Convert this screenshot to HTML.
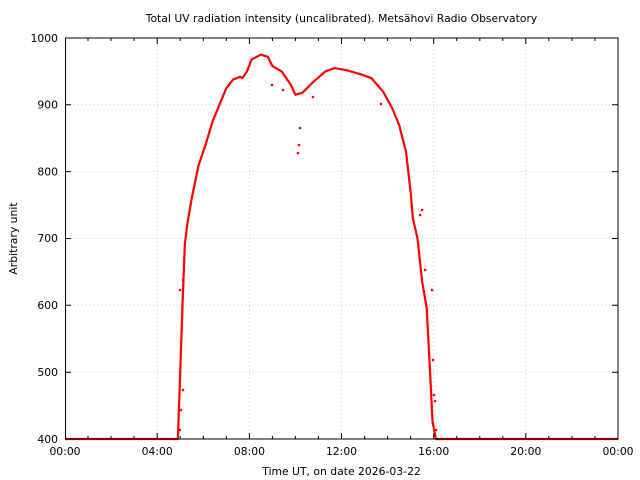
<!DOCTYPE html>
<html><head><style>body{margin:0;background:#fff}svg{display:block}</style></head><body>
<svg width="640" height="480" xmlns="http://www.w3.org/2000/svg" font-family="DejaVu Sans, sans-serif" font-size="10.8">
<rect width="640" height="480" fill="#fff"/>
<g stroke="#ccc" stroke-dasharray="1,3" stroke-width="1">
<line x1="157.2" y1="38" x2="157.2" y2="439"/><line x1="249.4" y1="38" x2="249.4" y2="439"/><line x1="341.5" y1="38" x2="341.5" y2="439"/><line x1="433.7" y1="38" x2="433.7" y2="439"/><line x1="525.8" y1="38" x2="525.8" y2="439"/>
<line x1="65" y1="104.8" x2="618" y2="104.8"/><line x1="65" y1="171.6" x2="618" y2="171.6"/><line x1="65" y1="238.5" x2="618" y2="238.5"/><line x1="65" y1="305.3" x2="618" y2="305.3"/><line x1="65" y1="372.2" x2="618" y2="372.2"/>
</g>
<polyline fill="none" stroke="#f00" stroke-width="2.2" stroke-linejoin="round" points="65,439 177.9,439 180.2,372.2 182.5,305.3 184.8,245.2 187.1,225.2 191.7,198.5 198.6,165.1 205.5,145 212.5,121.6 219.4,104.9 226.3,88.2 233.2,79.5 240.1,76.8 242.4,78.1 247,71.4 251.6,59.4 260.8,54.7 267.8,56.7 272.4,66.1 281.6,71.4 290.8,84.8 295.4,94.8 302.3,92.8 313.8,81.4 325.4,71.4 334.6,68.1 346.1,70.1 359.9,74.1 371.4,78.1 383,91.5 392.2,108.2 399.1,124.9 406,151.6 410.6,191.8 412.9,218.5 417.5,238.5 422.1,281.3 426.7,308 430.2,374.8 432.5,421.6 435.9,439 618,439"/>
<g fill="#f00">
<circle cx="300" cy="128" r="1.3"/><circle cx="298" cy="153" r="1.3"/><circle cx="272" cy="85" r="1.3"/><circle cx="283" cy="90" r="1.3"/><circle cx="180" cy="290" r="1.3"/><circle cx="183" cy="280" r="1.3"/><circle cx="425" cy="270" r="1.3"/><circle cx="432" cy="290" r="1.3"/><circle cx="433" cy="360" r="1.3"/><circle cx="434" cy="395" r="1.3"/><circle cx="436" cy="430" r="1.3"/><circle cx="420" cy="215" r="1.3"/><circle cx="422" cy="210" r="1.3"/><circle cx="180" cy="430" r="1.3"/><circle cx="181" cy="410" r="1.3"/><circle cx="183" cy="390" r="1.3"/><circle cx="299" cy="145" r="1.3"/><circle cx="313" cy="97" r="1.3"/><circle cx="381" cy="104" r="1.3"/><circle cx="435" cy="401" r="1.3"/>
</g>
<rect x="65.5" y="38" width="552.5" height="401" fill="none" stroke="#000"/>
<g stroke="#000">
<path d="M65,104.8h6M65,171.6h6M65,238.5h6M65,305.3h6M65,372.2h6M618,104.8h-6M618,171.6h-6M618,238.5h-6M618,305.3h-6M618,372.2h-6"/>
<path d="M157.2,439v-6M249.4,439v-6M341.5,439v-6M433.7,439v-6M525.8,439v-6M157.2,38v6M249.4,38v6M341.5,38v6M433.7,38v6M525.8,38v6"/>
<path d="M88,439v-3M111,439v-3M134,439v-3M180.2,439v-3M203.3,439v-3M226.3,439v-3M272.4,439v-3M295.4,439v-3M318.4,439v-3M364.6,439v-3M387.6,439v-3M410.6,439v-3M456.7,439v-3M479.8,439v-3M502.8,439v-3M548.8,439v-3M571.9,439v-3M594.9,439v-3M88,38v3M111,38v3M134,38v3M180.2,38v3M203.3,38v3M226.3,38v3M272.4,38v3M295.4,38v3M318.4,38v3M364.6,38v3M387.6,38v3M410.6,38v3M456.7,38v3M479.8,38v3M502.8,38v3M548.8,38v3M571.9,38v3M594.9,38v3"/>
</g>
<g text-anchor="end">
<text x="58" y="42">1000</text><text x="58" y="108.5">900</text><text x="58" y="175.5">800</text><text x="58" y="242">700</text><text x="58" y="309">600</text><text x="58" y="376">500</text><text x="58" y="443">400</text>
</g>
<g text-anchor="middle">
<text x="65" y="455">00:00</text><text x="157.2" y="455">04:00</text><text x="249.4" y="455">08:00</text><text x="341.5" y="455">12:00</text><text x="433.7" y="455">16:00</text><text x="525.8" y="455">20:00</text><text x="618" y="455">00:00</text>
<text x="341.5" y="475">Time UT, on date 2026-03-22</text>
<text x="341.5" y="22">Total UV radiation intensity (uncalibrated). Metsähovi Radio Observatory</text>
<text transform="translate(17,238.5) rotate(-90)">Arbitrary unit</text>
</g>
</svg>
</body></html>
